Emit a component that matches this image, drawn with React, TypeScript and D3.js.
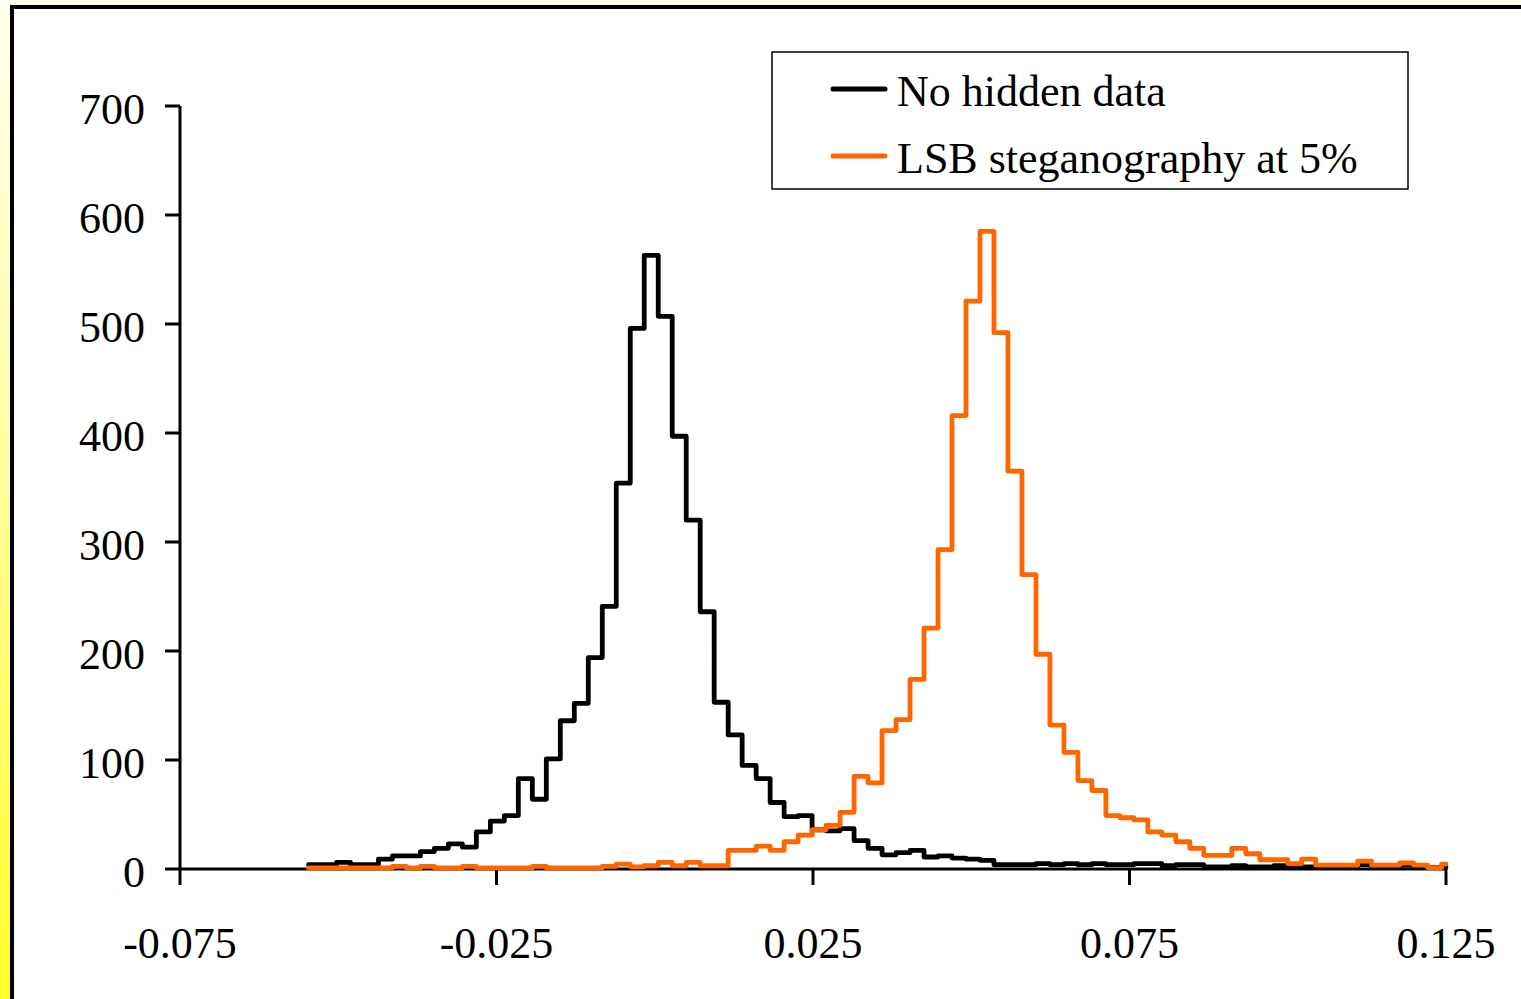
import React from "react";
import * as d3 from "d3";

// ---- data ----
const binStart = -0.0547;
const binWidth = 0.00221;
const xEnd = 0.125;

const noHidden = [
  4, 4, 6, 4, 4, 9, 12, 12, 16, 19,
  23, 20, 34, 44, 49, 83, 64, 101, 136, 152,
  194, 241, 354, 496, 563, 507, 397, 320, 236, 153,
  123, 95, 83, 61, 48, 49, 36, 35, 37, 26,
  19, 13, 15, 17, 11, 12, 10, 9, 8, 4,
  4, 4, 5, 4, 5, 4, 5, 4, 4, 5,
  5, 3, 4, 4, 2, 2, 3, 2, 2, 3,
  2, 2, 2, 1.5, 1.5, 4, 2, 1.5, 3.5, 2,
  1.5, 1.5,
];

const lsb5 = [
  1, 1, 1, 1, 1, 1, 2.5, 1, 2.5, 1,
  1, 2.5, 1, 1, 1, 1, 2.5, 1, 1, 1,
  1, 2.5, 4.5, 2, 3, 6, 3, 6, 3, 3,
  17, 17, 21, 17, 25, 31, 36, 40, 52, 85,
  79, 127, 137, 174, 221, 293, 416, 521, 585, 492,
  365, 270, 197, 132, 107, 81, 72, 49, 47, 45,
  34, 31, 25, 19, 12.5, 12.5, 19, 14, 8.5, 8.5,
  5, 9, 3.5, 3.5, 3.5, 7.3, 3.5, 3.5, 5.5, 3.5,
  1.3, 4.5,
];

const xTicks = [-0.075, -0.025, 0.025, 0.075, 0.125];
const xTickLabels = ["-0.075", "-0.025", "0.025", "0.075", "0.125"];
const yTicks = [0, 100, 200, 300, 400, 500, 600, 700];

const seriesNames = ["No hidden data", "LSB steganography at 5%"];
const seriesColors = ["#000000", "#FF6600"];

const W = 1521;
const H = 999;
const FONT = "'Liberation Serif', 'Times New Roman', serif";

function stepPoints(values: number[]): [number, number][] {
  const pts: [number, number][] = values.map((v, i) => [binStart + i * binWidth, v]);
  pts.push([xEnd, values[values.length - 1]]);
  return pts;
}

export default function App() {
  const x = d3.scaleLinear().domain([-0.075, 0.125]).range([180, 1446]);
  const y = d3.scaleLinear().domain([0, 700]).range([869, 106]);

  const line = d3
    .line<[number, number]>()
    .x((d) => x(d[0]))
    .y((d) => y(d[1]))
    .curve(d3.curveStepAfter);

  const series = [noHidden, lsb5];

  return (
    <svg
      width={W}
      height={H}
      style={{ position: "fixed", left: 0, top: 0, display: "block" }}
      xmlns="http://www.w3.org/2000/svg"
    >
      <defs>
        <linearGradient id="bg" x1="0" y1="0" x2="0" y2="1">
          <stop offset="0%" stopColor="#FFFFEE" />
          <stop offset="50%" stopColor="#FFFF99" />
          <stop offset="100%" stopColor="#FFFF2A" />
        </linearGradient>
      </defs>
      <rect x={0} y={0} width={W} height={H} fill="url(#bg)" />
      <rect x={12} y={7} width={W + 20} height={H + 20} fill="#FFFFFF" stroke="#000" strokeWidth={4} />

      {/* y axis */}
      <line x1={x(-0.075)} x2={x(-0.075)} y1={y(700)} y2={y(0)} stroke="#000" strokeWidth={3} />
      {yTicks.map((t) => (
        <g key={"y" + t}>
          <line x1={x(-0.075) - 15} x2={x(-0.075)} y1={y(t)} y2={y(t)} stroke="#000" strokeWidth={3} />
          <text
            x={145}
            y={y(t)}
            dy="0.4em"
            textAnchor="end"
            fontFamily={FONT}
            fontSize={44}
            fill="#000"
          >
            {t}
          </text>
        </g>
      ))}

      {/* x axis */}
      <line x1={x(-0.075)} x2={x(0.125)} y1={y(0)} y2={y(0)} stroke="#000" strokeWidth={3} />
      {xTicks.map((t, i) => (
        <g key={"x" + i}>
          <line x1={x(t)} x2={x(t)} y1={y(0)} y2={y(0) + 16} stroke="#000" strokeWidth={3} />
          <text
            x={x(t)}
            y={958}
            textAnchor="middle"
            fontFamily={FONT}
            fontSize={44}
            fill="#000"
          >
            {xTickLabels[i]}
          </text>
        </g>
      ))}

      {/* series */}
      {series.map((vals, i) => (
        <path
          key={"s" + i}
          d={line(stepPoints(vals)) || ""}
          fill="none"
          stroke={seriesColors[i]}
          strokeWidth={4.8}
          strokeLinejoin="round"
          strokeLinecap="round"
        />
      ))}

      {/* legend */}
      <rect x={772} y={52} width={636} height={137} fill="#FFFFFF" stroke="#000" strokeWidth={1.5} />
      {seriesNames.map((name, i) => (
        <g key={"l" + i}>
          <line
            x1={833}
            x2={885}
            y1={89 + i * 67}
            y2={89 + i * 67}
            stroke={seriesColors[i]}
            strokeWidth={5}
            strokeLinecap="round"
          />
          <text x={897} y={106 + i * 67} fontFamily={FONT} fontSize={44} fill="#000">
            {name}
          </text>
        </g>
      ))}
    </svg>
  );
}
